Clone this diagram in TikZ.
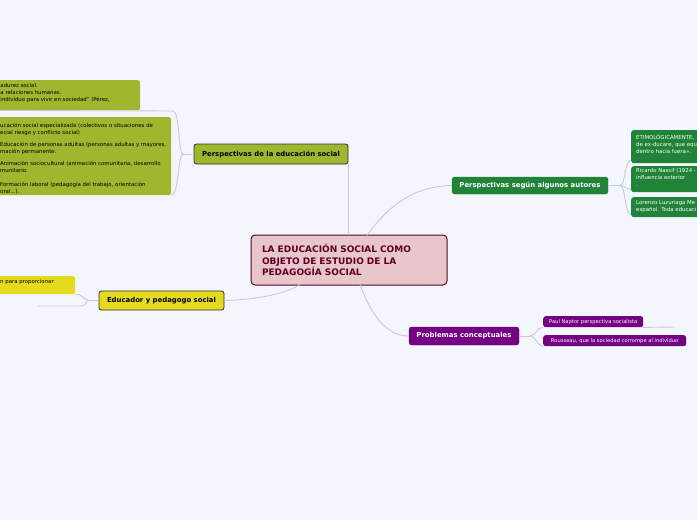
\documentclass[tikz,border=0pt]{standalone}
\usepackage{fontspec}
\setmainfont{DejaVu Sans}
\usetikzlibrary{calc}
\definecolor{bgc}{RGB}{244,246,254}
\definecolor{linec}{RGB}{198,200,212}
\definecolor{cfill}{RGB}{231,198,204}
\definecolor{cdark}{RGB}{98,0,34}
\definecolor{olive}{RGB}{157,184,46}
\definecolor{darkb}{RGB}{45,45,45}
\definecolor{grn}{RGB}{32,131,56}
\definecolor{purp}{RGB}{116,0,132}
\definecolor{yel}{RGB}{230,218,30}
\tikzset{
  conn/.style={draw=linec, line width=0.9pt},
  central/.style={rectangle, rounded corners=4pt, fill=cfill, draw=cdark, line width=1pt,
    text=cdark, font=\fontsize{9}{11.6}\selectfont\bfseries, align=left, inner xsep=11pt, inner ysep=0pt},
  topic/.style={rectangle, rounded corners=2.5pt, inner sep=0pt, align=center,
    font=\fontsize{6.9}{7.5}\selectfont\bfseries},
  leafbox/.style={rectangle, rounded corners=2.5pt, inner sep=0pt, anchor=north west},
  leaftext/.style={anchor=north west, inner sep=0pt, align=left, font=\fontsize{5.4}{7}\selectfont},
  purpleaf/.style={leafbox, fill=purp, minimum height=11pt, text=white, inner xsep=5pt,
    align=left, font=\fontsize{5.2}{6}\selectfont},
}
\begin{document}
\begin{tikzpicture}[x=1pt,y=-1pt]
\fill[bgc] (0,0) rectangle (697,520);
\useasboundingbox (0,0) rectangle (697,520);
\clip (0,0) rectangle (697,520);

% central
\node[central, minimum width=196pt, minimum height=50pt, text width=174pt] (c) at (349,260)
  {LA EDUCACIÓN SOCIAL COMO\\OBJETO DE ESTUDIO DE LA\\PEDAGOGÍA SOCIAL};

% main topics
\node[topic, fill=olive, draw=darkb, line width=0.8pt, minimum width=154pt, minimum height=20pt] (ol) at (271,154)
  {Perspectivas de la educación social};
\node[topic, fill=grn, draw=grn, text=white, minimum width=156pt, minimum height=17pt] (gr) at (530,185.5)
  {Perspectivas según algunos autores};
\node[topic, fill=purp, draw=purp, text=white, minimum width=110pt, minimum height=18pt] (pu) at (464,336)
  {Problemas conceptuales};
\node[topic, fill=yel, draw=darkb, line width=0.8pt, minimum width=125pt, minimum height=19pt] (ye) at (161.5,300.5)
  {Educador y pedagogo social};

% olive leaves
\node[leafbox, fill=olive, minimum width=150pt, minimum height=30pt] (b1) at (-10,80) {};
\node[leaftext] (b1t) at (0.3,83.5)
  {adurez social.\\a relaciones humanas.\\individuo para vivir en sociedad" (Pérez,};
\node[leafbox, fill=olive, minimum width=181pt, minimum height=78pt] (b2) at (-10,117) {};
\node[leaftext] (b2t) at (0,122.5)
  {ucación social especializada (colectivos o situaciones de\\ecial riesgo y conflicto social)\\[5.5pt]
   Educación de personas adultas (personas adultas y mayores,\\mación permanente.\\[5pt]
   Animación sociocultural (animación comunitaria, desarrollo\\munitario.\\[6.5pt]
   Formación laboral (pedagogía del trabajo, orientación\\oral...).};

% yellow leaf
\node[leafbox, fill=yel, minimum width=85pt, minimum height=18pt] (y1) at (-10,276) {};
\node[leaftext] (y1t) at (0,279.5) {n para proporcionar};
\coordinate (y2a) at (38,306);
\coordinate (y2b) at (82,306);

% green leaves
\node[leafbox, fill=grn, minimum width=80pt, minimum height=33pt] (gA) at (631,130) {};
\node[leaftext, text=white] (gAt) at (636,134.5)
  {ETIMOLÓGICAMENTE,\\de ex-ducare, que equ\\dentro hacia fuera».};
\node[leafbox, fill=grn, minimum width=80pt, minimum height=26pt] (gB) at (631,166) {};
\node[leaftext, text=white] (gBt) at (636,168.5)
  {Ricardo Nassif (1924 -\\influencia exterior\\.};
\node[leafbox, fill=grn, minimum width=80pt, minimum height=20pt] (gC) at (631,197) {};
\node[leaftext, text=white] (gCt) at (636,200.5)
  {Lorenzo Luzuriaga Me\\español. Toda educaci};

% purple leaves
\node[purpleaf, minimum width=100pt] (pA) at (543,316) {Paul Naptor perspectiva socialista};
\node[purpleaf, minimum width=143pt] (pB) at (543,335) {Rousseau, que la sociedad corrompe al individuo};
\coordinate (pAe) at (675,327);

% main connectors
\coordinate (cg) at (367,235.5);
\coordinate (cp) at (360,284.5);
\coordinate (cy) at (300,284.5);
\draw[conn] (ol.south east) -- (ol.south east |- c.north);
\draw[conn] (cg) .. controls (392,200) and (420,186) .. (gr.west);
\draw[conn] (cp) .. controls (370,312) and (385,336) .. (pu.west);
\draw[conn] (cy) .. controls (285,295) and (250,300) .. (ye.east);

% olive sub-connectors
\coordinate (olf) at (183,154);
\coordinate (b1e) at (173,111);
\draw[conn] (ol.west) -- (olf);
\draw[conn] (b1.south west) -- (b1e) .. controls (180,111) and (178,154) .. (olf);
\draw[conn] (b2.south east) .. controls (179,195) and (178,154) .. (olf);

% yellow sub-connectors
\coordinate (yf) at (89,300.5);
\draw[conn] (ye.west) -- (yf);
\draw[conn] (y1.south east) .. controls (83,294) and (84,300.5) .. (yf);
\draw[conn] (y2a) -- (y2b) .. controls (86,306) and (86,300.5) .. (yf);

% green sub-connectors
\coordinate (grf) at (620,185.5);
\draw[conn] (gr.east) -- (grf);
\draw[conn] (grf) .. controls (626,185.5) and (624,160) .. ($(gA.south west)+(0,-3)$);
\draw[conn] (grf) .. controls (626,185.5) and (625,189) .. ($(gB.south west)+(0,-3)$);
\draw[conn] (grf) .. controls (626,185.5) and (624,214) .. ($(gC.south west)+(0,-3)$);

% purple sub-connectors
\coordinate (puf) at (530,336);
\draw[conn] (pu.east) -- (puf);
\draw[conn] (puf) .. controls (536,336) and (537,327) .. (pA.south west);
\draw[conn] (puf) .. controls (536,336) and (537,346) .. (pB.south west);
\draw[conn] (pA.south east) -- (pAe);
\end{tikzpicture}
\end{document}
